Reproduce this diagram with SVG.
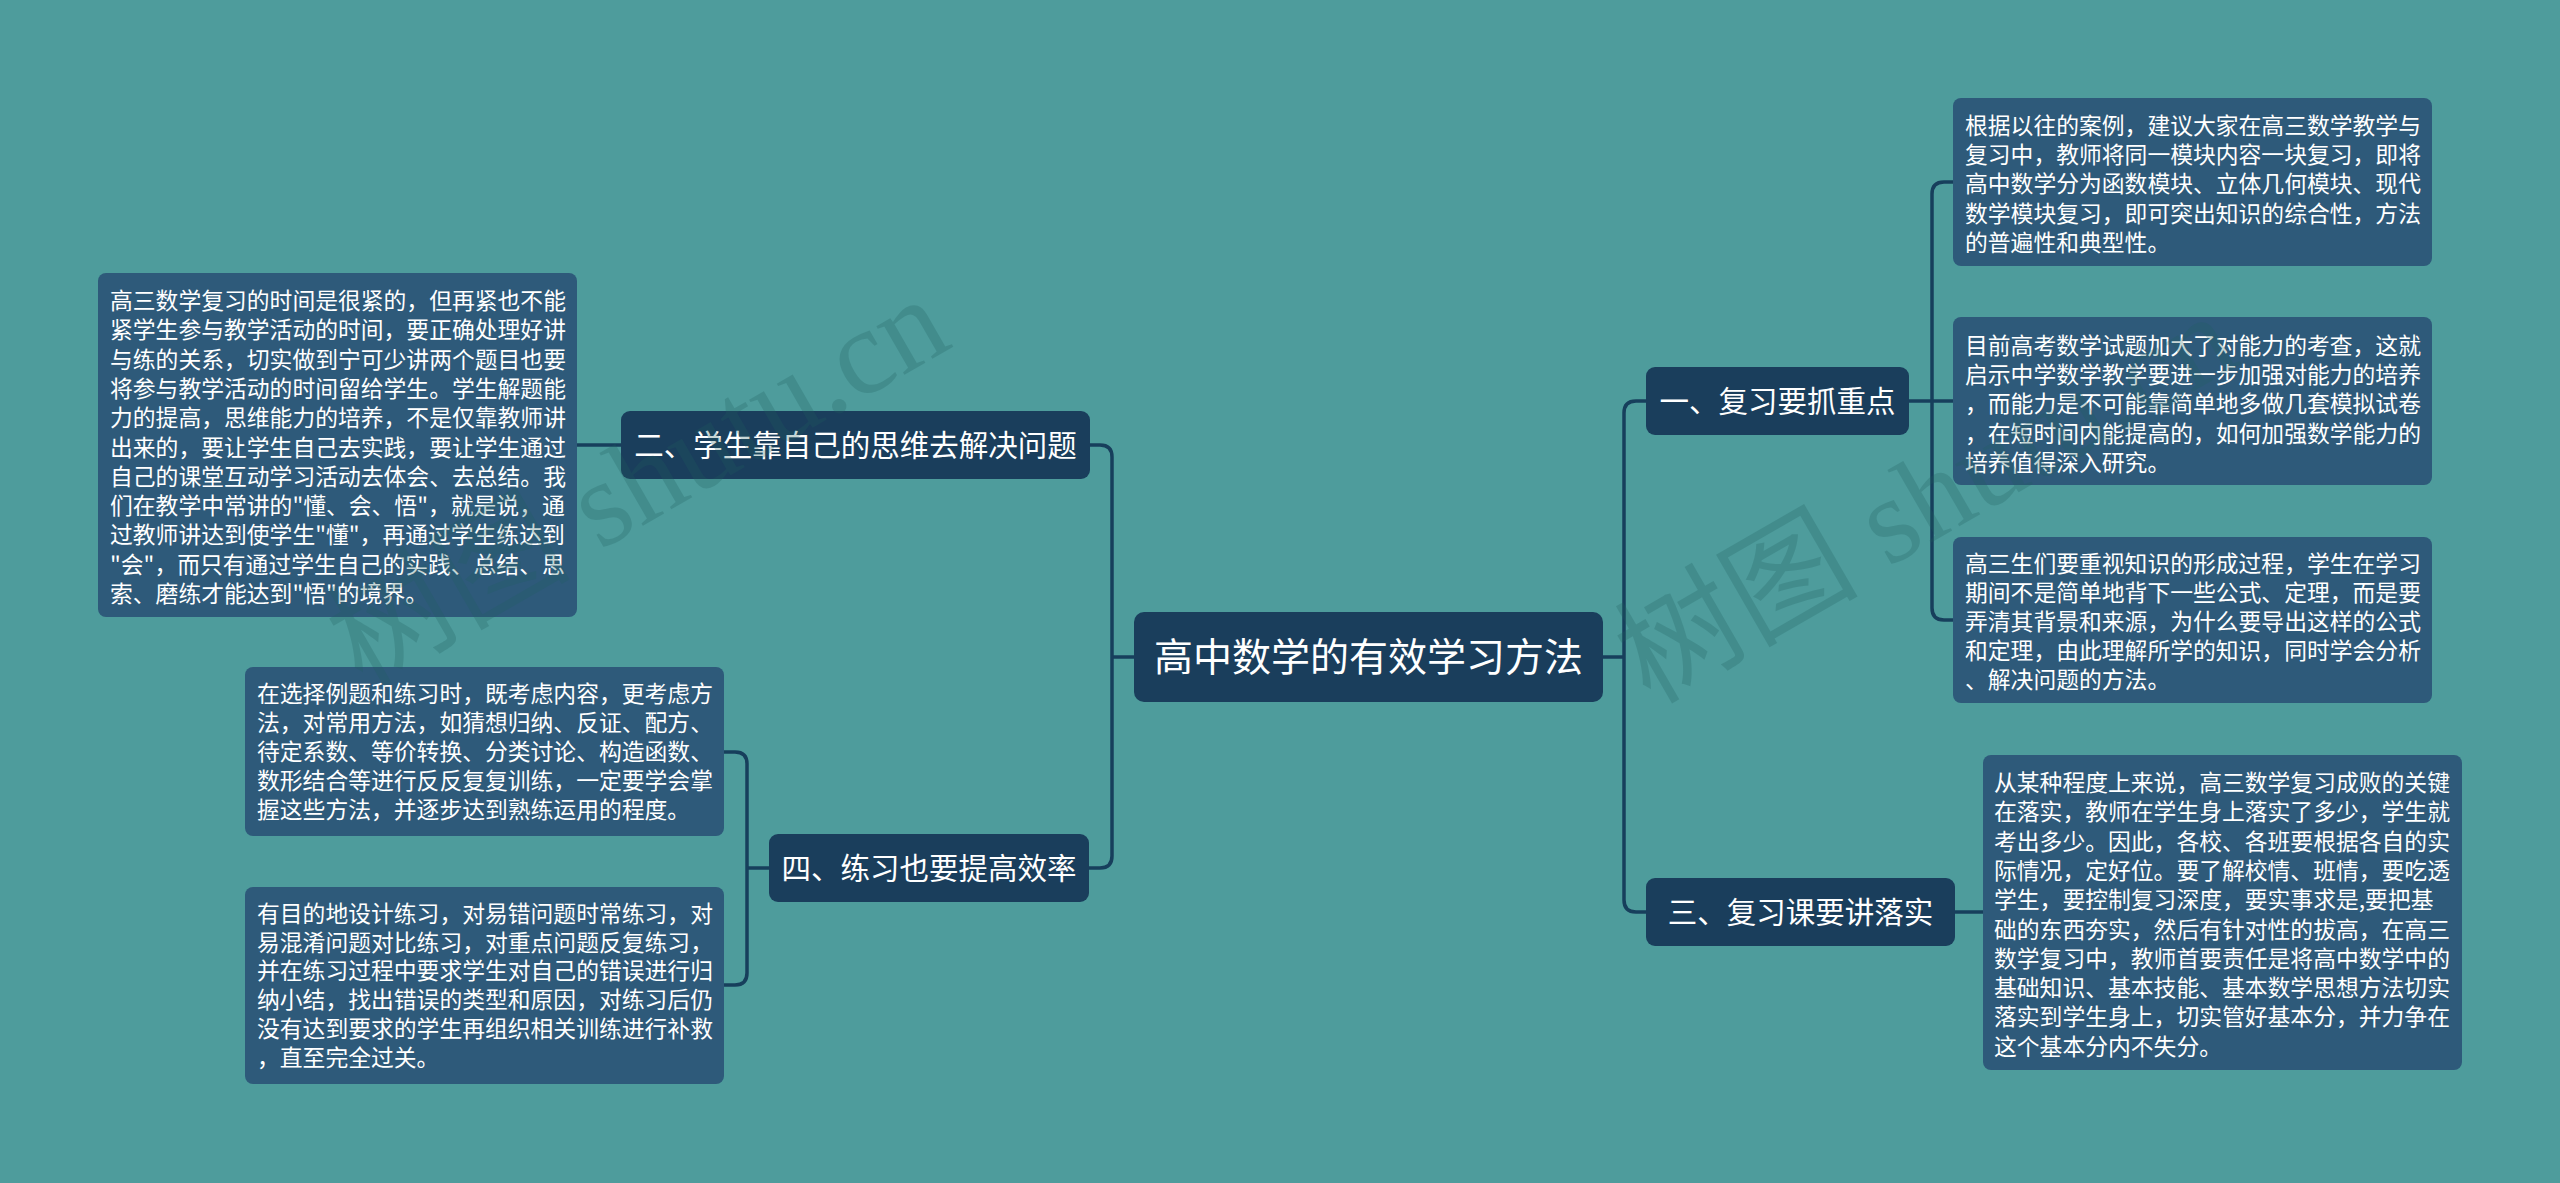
<svg xmlns="http://www.w3.org/2000/svg" width="2560" height="1183" viewBox="0 0 2560 1183">
<style>
.bg{fill:#4e9c9c}
.main{fill:#1a3e5c}
.detail{fill:#2e5a7a}
.mt{font-family:"Noto Sans CJK SC","Noto Sans",sans-serif;fill:#ffffff;font-size:29.5px;text-anchor:middle}
.ct{font-family:"Noto Sans CJK SC","Noto Sans",sans-serif;fill:#ffffff;font-size:39px;text-anchor:middle}
.dt{font-family:"Noto Sans CJK SC","Noto Sans",sans-serif;fill:#ffffff;font-size:22.8px}
.conn{fill:none;stroke:#173f5c;stroke-width:3.5}
.wm{font-family:"Liberation Serif","Noto Sans CJK SC",serif;font-size:122px;fill:#1f5f5f;opacity:0.25}
</style>
<rect class="bg" x="0" y="0" width="2560" height="1183"/>
<g id="connectors">
<path class="conn" d="M1134,657 H1112"/>
<path class="conn" d="M1090,445 H1100 Q1112,445 1112,457 V856 Q1112,868 1100,868 H1089"/>
<path class="conn" d="M1603,657 H1624"/>
<path class="conn" d="M1646,401 H1636 Q1624,401 1624,413 V900 Q1624,912 1636,912 H1646"/>
<path class="conn" d="M577,445 H621"/>
<path class="conn" d="M769,868 H747"/>
<path class="conn" d="M724,752 H735 Q747,752 747,764 V973 Q747,985 735,985 H724"/>
<path class="conn" d="M1909,401 H1953"/>
<path class="conn" d="M1953,182 H1944 Q1932,182 1932,194 V608 Q1932,620 1944,620 H1953"/>
<path class="conn" d="M1955,912 H1983"/>
</g>
<g id="center">
<rect class="main" x="1134" y="612" width="469" height="90" rx="10"/>
<text class="ct" x="1368.5" y="671">高中数学的有效学习方法</text>
</g>
<g id="n2">
<rect class="main" x="621" y="411" width="469" height="68" rx="9"/>
<text class="mt" x="855.5" y="456">二、学生靠自己的思维去解决问题</text>
</g>
<g id="n4">
<rect class="main" x="769" y="834" width="320" height="68" rx="9"/>
<text class="mt" x="929" y="879">四、练习也要提高效率</text>
</g>
<g id="n1">
<rect class="main" x="1646" y="367" width="263" height="68" rx="9"/>
<text class="mt" x="1777.5" y="412">一、复习要抓重点</text>
</g>
<g id="n3">
<rect class="main" x="1646" y="878" width="309" height="68" rx="9"/>
<text class="mt" x="1800.5" y="923">三、复习课要讲落实</text>
</g>
<g id="d2a">
<rect class="detail" x="98" y="273" width="479" height="344" rx="8"/>
<text class="dt">
<tspan x="110" y="309">高三数学复习的时间是很紧的，但再紧也不能</tspan>
<tspan x="110" y="338.3">紧学生参与教学活动的时间，要正确处理好讲</tspan>
<tspan x="110" y="367.6">与练的关系，切实做到宁可少讲两个题目也要</tspan>
<tspan x="110" y="396.9">将参与教学活动的时间留给学生。学生解题能</tspan>
<tspan x="110" y="426.2">力的提高，思维能力的培养，不是仅靠教师讲</tspan>
<tspan x="110" y="455.5">出来的，要让学生自己去实践，要让学生通过</tspan>
<tspan x="110" y="484.8">自己的课堂互动学习活动去体会、去总结。我</tspan>
<tspan x="110" y="514.1">们在教学中常讲的"懂、会、悟"，就是说，通</tspan>
<tspan x="110" y="543.4">过教师讲达到使学生"懂"，再通过学生练达到</tspan>
<tspan x="110" y="572.7">"会"，而只有通过学生自己的实践、总结、思</tspan>
<tspan x="110" y="602">索、磨练才能达到"悟"的境界。</tspan>
</text>
</g>
<g id="d4a">
<rect class="detail" x="245" y="667" width="479" height="169" rx="8"/>
<text class="dt">
<tspan x="257" y="702">在选择例题和练习时，既考虑内容，更考虑方</tspan>
<tspan x="257" y="731">法，对常用方法，如猜想归纳、反证、配方、</tspan>
<tspan x="257" y="760">待定系数、等价转换、分类讨论、构造函数、</tspan>
<tspan x="257" y="789">数形结合等进行反反复复训练，一定要学会掌</tspan>
<tspan x="257" y="818">握这些方法，并逐步达到熟练运用的程度。</tspan>
</text>
</g>
<g id="d4b">
<rect class="detail" x="245" y="887" width="479" height="197" rx="8"/>
<text class="dt">
<tspan x="257" y="922">有目的地设计练习，对易错问题时常练习，对</tspan>
<tspan x="257" y="950.7">易混淆问题对比练习，对重点问题反复练习，</tspan>
<tspan x="257" y="979.4">并在练习过程中要求学生对自己的错误进行归</tspan>
<tspan x="257" y="1008.1">纳小结，找出错误的类型和原因，对练习后仍</tspan>
<tspan x="257" y="1036.8">没有达到要求的学生再组织相关训练进行补救</tspan>
<tspan x="257" y="1065.5">，直至完全过关。</tspan>
</text>
</g>
<g id="d1a">
<rect class="detail" x="1953" y="98" width="479" height="168" rx="8"/>
<text class="dt">
<tspan x="1965" y="134">根据以往的案例，建议大家在高三数学教学与</tspan>
<tspan x="1965" y="163.2">复习中，教师将同一模块内容一块复习，即将</tspan>
<tspan x="1965" y="192.4">高中数学分为函数模块、立体几何模块、现代</tspan>
<tspan x="1965" y="221.6">数学模块复习，即可突出知识的综合性，方法</tspan>
<tspan x="1965" y="250.8">的普遍性和典型性。</tspan>
</text>
</g>
<g id="d1b">
<rect class="detail" x="1953" y="317" width="479" height="168" rx="8"/>
<text class="dt">
<tspan x="1965" y="354">目前高考数学试题加大了对能力的考查，这就</tspan>
<tspan x="1965" y="383.2">启示中学数学教学要进一步加强对能力的培养</tspan>
<tspan x="1965" y="412.4">，而能力是不可能靠简单地多做几套模拟试卷</tspan>
<tspan x="1965" y="441.6">，在短时间内能提高的，如何加强数学能力的</tspan>
<tspan x="1965" y="470.8">培养值得深入研究。</tspan>
</text>
</g>
<g id="d1c">
<rect class="detail" x="1953" y="537" width="479" height="166" rx="8"/>
<text class="dt">
<tspan x="1965" y="572">高三生们要重视知识的形成过程，学生在学习</tspan>
<tspan x="1965" y="601">期间不是简单地背下一些公式、定理，而是要</tspan>
<tspan x="1965" y="630">弄清其背景和来源，为什么要导出这样的公式</tspan>
<tspan x="1965" y="659">和定理，由此理解所学的知识，同时学会分析</tspan>
<tspan x="1965" y="688">、解决问题的方法。</tspan>
</text>
</g>
<g id="d3a">
<rect class="detail" x="1983" y="755" width="479" height="315" rx="8"/>
<text class="dt">
<tspan x="1994" y="791">从某种程度上来说，高三数学复习成败的关键</tspan>
<tspan x="1994" y="820.3">在落实，教师在学生身上落实了多少，学生就</tspan>
<tspan x="1994" y="849.6">考出多少。因此，各校、各班要根据各自的实</tspan>
<tspan x="1994" y="878.9">际情况，定好位。要了解校情、班情，要吃透</tspan>
<tspan x="1994" y="908.2">学生，要控制复习深度，要实事求是,要把基</tspan>
<tspan x="1994" y="937.5">础的东西夯实，然后有针对性的拔高，在高三</tspan>
<tspan x="1994" y="966.8">数学复习中，教师首要责任是将高中数学中的</tspan>
<tspan x="1994" y="996.1">基础知识、基本技能、基本数学思想方法切实</tspan>
<tspan x="1994" y="1025.4">落实到学生身上，切实管好基本分，并力争在</tspan>
<tspan x="1994" y="1054.7">这个基本分内不失分。</tspan>
</text>
</g>
<g id="watermarks">
<text class="wm" transform="translate(362,688) rotate(-30)">树图 shutu.cn</text>
<text class="wm" transform="translate(1650,705) rotate(-30)">树图 shutu.cn</text>
</g>
</svg>
